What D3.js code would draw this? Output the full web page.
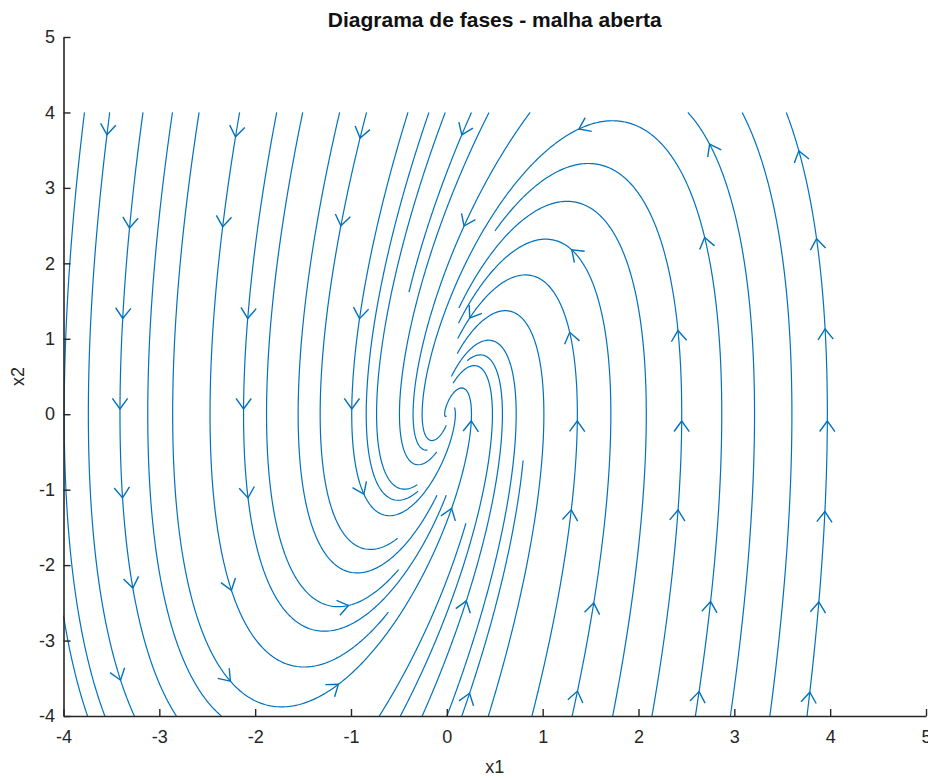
<!DOCTYPE html>
<html>
<head>
<meta charset="utf-8">
<script src="https://cdn.jsdelivr.net/npm/d3@7"></script>
<style>
  html, body { margin: 0; padding: 0; background: #fff; }
  svg { display: block; }
</style>
</head>
<body>
<svg id="chart" width="928" height="778"></svg>
<script>
// Open-loop linear system  x' = A x  (rows of A)
const dx1Coef = [0.0, -0.3];   // x1' = a11*x1 + a12*x2
const dx2Coef = [2.25, -1.0];  // x2' = a21*x1 + a22*x2

// Region covered by the stream slice and its seeding grids
const fieldRange = [-4, 4];
const startCells = 20;   // coarse seeding grid
const endCells = 80;     // fine occupancy grid
const minLength = 0.5;   // shortest streamline kept (data units)

// Streamlines started first: crossings of the x2 = 0.19 row, then entries at the top and bottom edges
const rowSeedY = 0.19;
const rowSeedX = [-3.74, -3.41, -3.12, -2.86, -2.47, -2.12, -1.88, -1.55, -1.32, -0.99, -0.73, -0.49, -0.25,
                  0.28, 0.47, 0.72, 1.01, 1.36, 1.71, 2.08, 2.45, 2.82, 3.21, 3.60, 3.97];
const topSeedY = 3.95;
const topSeedX = [-0.52, -0.20, 0.24, 0.84];
const bottomSeedY = -3.95;
const bottomSeedX = [-0.68, -0.24, 0.17];

// Axis ticks
const xTicks = [-4, -3, -2, -1, 0, 1, 2, 3, 4, 5];
const yTicks = [-4, -3, -2, -1, 0, 1, 2, 3, 4, 5];
const axisDomain = [-4, 5];

const titleText = "Diagrama de fases - malha aberta";
const xLabel = "x1";
const yLabel = "x2";

const svg = d3.select("#chart");

const x = d3.scaleLinear().domain(axisDomain).range([63.5, 926]);
const y = d3.scaleLinear().domain(axisDomain).range([716, 37]);

const lineColor = "#0072BD";
const inkColor = "#262626";

// ---------- streamline computation ----------
const [lo, hi] = fieldRange;
const span = hi - lo;

function field(p) {
  return [dx1Coef[0] * p[0] + dx1Coef[1] * p[1],
          dx2Coef[0] * p[0] + dx2Coef[1] * p[1]];
}
function dir(p, sgn) {
  const v = field(p);
  const m = Math.hypot(v[0], v[1]);
  if (m < 1e-9) return null;
  return [sgn * v[0] / m, sgn * v[1] / m];
}
function rk4(p, h, sgn) {
  const k1 = dir(p, sgn); if (!k1) return null;
  const k2 = dir([p[0] + h / 2 * k1[0], p[1] + h / 2 * k1[1]], sgn); if (!k2) return null;
  const k3 = dir([p[0] + h / 2 * k2[0], p[1] + h / 2 * k2[1]], sgn); if (!k3) return null;
  const k4 = dir([p[0] + h * k3[0], p[1] + h * k3[1]], sgn); if (!k4) return null;
  return [p[0] + h / 6 * (k1[0] + 2 * k2[0] + 2 * k3[0] + k4[0]),
          p[1] + h / 6 * (k1[1] + 2 * k2[1] + 2 * k3[1] + k4[1])];
}

const endGrid = new Int32Array(endCells * endCells).fill(-1);
const startGrid = new Uint8Array(startCells * startCells);

function cellOf(p, n) {
  let c = Math.floor((p[0] - lo) / span * n);
  let r = Math.floor((p[1] - lo) / span * n);
  c = Math.min(n - 1, Math.max(0, c));
  r = Math.min(n - 1, Math.max(0, r));
  return r * n + c;
}
function inside(p) {
  return p[0] >= lo && p[0] <= hi && p[1] >= lo && p[1] <= hi;
}
function clipToBox(a, b) {
  let t = 1;
  for (let k = 0; k < 2; k++) {
    const d = b[k] - a[k];
    if (b[k] > hi) t = Math.min(t, (hi - a[k]) / d);
    if (b[k] < lo) t = Math.min(t, (lo - a[k]) / d);
  }
  return [a[0] + t * (b[0] - a[0]), a[1] + t * (b[1] - a[1])];
}

const h = 0.02;
function trace(seed, sgn) {
  const pts = [seed];
  let p = seed;
  for (let i = 0; i < 1500; i++) {
    const q = rk4(p, h, sgn);
    if (!q) break;
    if (!inside(q)) { pts.push(clipToBox(p, q)); break; }
    if (Math.hypot(q[0], q[1]) < 0.02) break;
    if (endGrid[cellOf(q, endCells)] >= 0) break;
    pts.push(q);
    p = q;
  }
  return pts;
}

const streams = [];
function addStream(seed) {
  if (endGrid[cellOf(seed, endCells)] >= 0) return;
  const fwd = trace(seed, 1);
  const bwd = trace(seed, -1);
  const pts = bwd.slice(1).reverse().concat(fwd);
  const len = d3.sum(pts.slice(1), (p, i) => Math.hypot(p[0] - pts[i][0], p[1] - pts[i][1]));
  if (len < minLength) return;
  const id = streams.length;
  pts.forEach(p => {
    endGrid[cellOf(p, endCells)] = id;
    startGrid[cellOf(p, startCells)] = 1;
  });
  streams.push(pts);
}

rowSeedX.forEach(sx => addStream([sx, rowSeedY]));
topSeedX.forEach(sx => addStream([sx, topSeedY]));
bottomSeedX.forEach(sx => addStream([sx, bottomSeedY]));

// fill the remaining free cells of the coarse grid
const nStart = startCells * startCells;
for (let k = 0; k < nStart; k++) {
  const idx = (k * 137) % nStart;
  if (startGrid[idx]) continue;
  startGrid[idx] = 1;
  const r = Math.floor(idx / startCells), c = idx % startCells;
  addStream([lo + (c + 0.5) * span / startCells, lo + (r + 0.5) * span / startCells]);
}

// ---------- arrows: one per node of a coarse lattice, on the nearest streamline ----------
const cellW = span / startCells;
const arrowXs = d3.range(1, startCells, 3).map(c => lo + (c + 0.5) * cellW);
const arrowYs = d3.range(1, startCells, 3).map(r => lo + r * cellW);
const arrows = [];
arrowYs.forEach(ay => arrowXs.forEach(ax => {
  let best = null, bd = 0.5;
  streams.forEach((s, si) => {
    for (let i = 1; i < s.length - 1; i++) {
      const d = Math.hypot(s[i][0] - ax, s[i][1] - ay);
      if (d < bd) { bd = d; best = [si, i]; }
    }
  });
  if (best) {
    const s = streams[best[0]];
    arrows.push({ s, i: Math.max(1, best[1] - 4) });
  }
}));

// ---------- drawing ----------
const g = svg.append("g");
const lineGen = d3.line().x(d => x(d[0])).y(d => y(d[1]));

g.append("g").selectAll("path").data(streams).join("path")
  .attr("d", lineGen)
  .attr("fill", "none")
  .attr("stroke", lineColor)
  .attr("stroke-width", 1.2)
  .attr("stroke-linejoin", "round");

const headLen = 13, headAng = 36 * Math.PI / 180;
g.append("g").selectAll("path").data(arrows).join("path")
  .attr("d", a => {
    const s = a.s, i = a.i;
    const p = s[i], pa = s[Math.max(0, i - 2)], pb = s[Math.min(s.length - 1, i + 2)];
    const tx = x(p[0]), ty = y(p[1]);
    let dxp = x(pb[0]) - x(pa[0]), dyp = y(pb[1]) - y(pa[1]);
    const m = Math.hypot(dxp, dyp) || 1;
    dxp /= m; dyp /= m;
    const back = Math.atan2(-dyp, -dxp);
    const w1 = [tx + headLen * Math.cos(back + headAng), ty + headLen * Math.sin(back + headAng)];
    const w2 = [tx + headLen * Math.cos(back - headAng), ty + headLen * Math.sin(back - headAng)];
    return `M${w1[0]},${w1[1]}L${tx},${ty}L${w2[0]},${w2[1]}`;
  })
  .attr("fill", "none")
  .attr("stroke", lineColor)
  .attr("stroke-width", 1.4);

// axes
const fmt = d => String(d);
const xAxis = svg.append("g").attr("transform", `translate(0,${y(-4)})`)
  .call(d3.axisBottom(x).tickValues(xTicks).tickFormat(fmt).tickSizeInner(-7).tickSizeOuter(0).tickPadding(14));
const yAxis = svg.append("g").attr("transform", `translate(${x(-4)},0)`)
  .call(d3.axisLeft(y).tickValues(yTicks).tickFormat(fmt).tickSizeInner(-7).tickSizeOuter(0).tickPadding(8.5));
[xAxis, yAxis].forEach(ax => {
  ax.select(".domain").attr("stroke", inkColor).attr("stroke-width", 1.6);
  ax.selectAll(".tick line").attr("stroke", inkColor).attr("stroke-width", 1.4);
  ax.selectAll(".tick text").attr("fill", inkColor)
    .style("font-family", "'Liberation Sans', Arial, sans-serif").style("font-size", "18px");
});

svg.append("text")
  .attr("x", (x(-4) + x(5)) / 2).attr("y", 27)
  .attr("text-anchor", "middle")
  .style("font-family", "'Liberation Sans', Arial, sans-serif")
  .style("font-size", "21px").style("font-weight", "bold")
  .attr("fill", "#111")
  .text(titleText);

svg.append("text")
  .attr("x", (x(-4) + x(5)) / 2).attr("y", 773)
  .attr("text-anchor", "middle")
  .style("font-family", "'Liberation Sans', Arial, sans-serif")
  .style("font-size", "18px").attr("fill", inkColor)
  .text(xLabel);

svg.append("text")
  .attr("transform", `translate(24,${(y(-4) + y(5)) / 2}) rotate(-90)`)
  .attr("text-anchor", "middle")
  .style("font-family", "'Liberation Sans', Arial, sans-serif")
  .style("font-size", "18px").attr("fill", inkColor)
  .text(yLabel);
</script>
</body>
</html>
